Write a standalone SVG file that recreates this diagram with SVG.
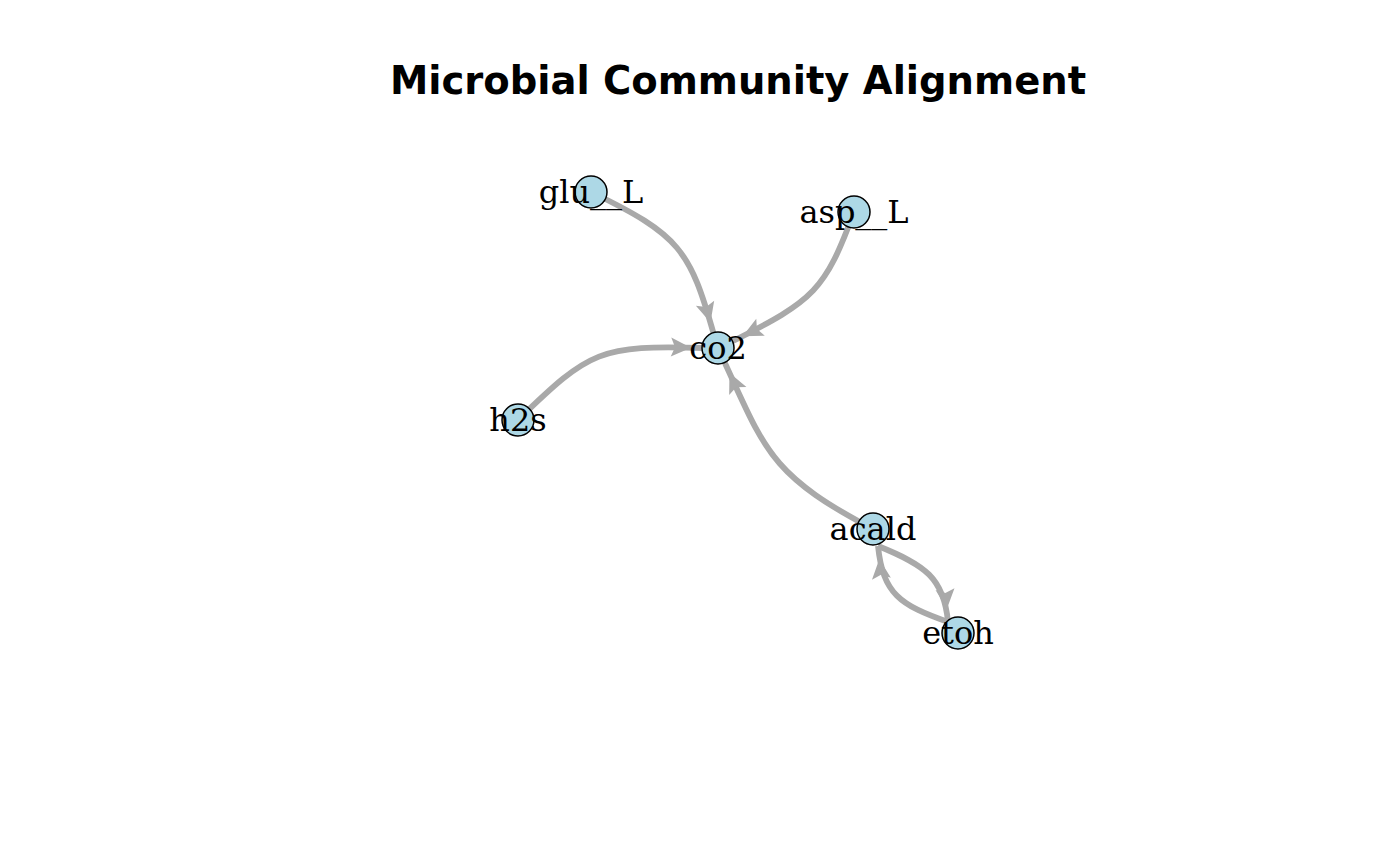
<svg xmlns="http://www.w3.org/2000/svg" width="1400" height="865" viewBox="0 0 1400 865">
<style>
.edge{fill:none;stroke:#A9A9A9;stroke-width:5.8;marker-end:url(#arr)}
.node circle{fill:#ADD8E6;stroke:#000;stroke-width:1.5}
.node text{font-family:"DejaVu Serif",serif;font-size:32px;fill:#000;text-anchor:middle}
.title{font-family:"DejaVu Sans",sans-serif;font-weight:bold;font-size:38.5px;text-anchor:middle;fill:#000}
</style>
<defs>
<marker id="arr" markerUnits="userSpaceOnUse" markerWidth="44" markerHeight="24" viewBox="-44 -12 44 24" refX="0" refY="0" orient="auto" overflow="visible">
<path d="M-13,0 L-33,-9.5 L-29,0 L-33,9.5 Z" fill="#A9A9A9"/>
</marker>
</defs>
<rect width="1400" height="865" fill="#fff"/>
<text class="title" x="738" y="94">Microbial Community Alignment</text>
<g id="edges">
<path class="edge" d="M591,192 C680,235 690,250 714,335"/>
<path class="edge" d="M854,212 C825,290 815,300 731,342"/>
<path class="edge" d="M518,420 C590,350 600,345 704,348"/>
<path class="edge" d="M873,529 C770,475 765,450 724,361"/>
<path class="edge" d="M878,546 C925,565 944,578 948,622"/>
<path class="edge" d="M948,622 C900,605 883,594 878,546"/>
</g>
<g id="node-glu__L" class="node"><circle cx="591" cy="192" r="16"/><text x="591" y="203">glu__L</text></g>
<g id="node-asp__L" class="node"><circle cx="854" cy="212" r="16"/><text x="854" y="223">asp__L</text></g>
<g id="node-co2" class="node"><circle cx="718" cy="348" r="16"/><text x="718" y="359">co2</text></g>
<g id="node-h2s" class="node"><circle cx="518" cy="420" r="16"/><text x="518" y="431">h2s</text></g>
<g id="node-acald" class="node"><circle cx="873" cy="529" r="16"/><text x="873" y="540">acald</text></g>
<g id="node-etoh" class="node"><circle cx="958" cy="633" r="16"/><text x="958" y="644">etoh</text></g>
</svg>
